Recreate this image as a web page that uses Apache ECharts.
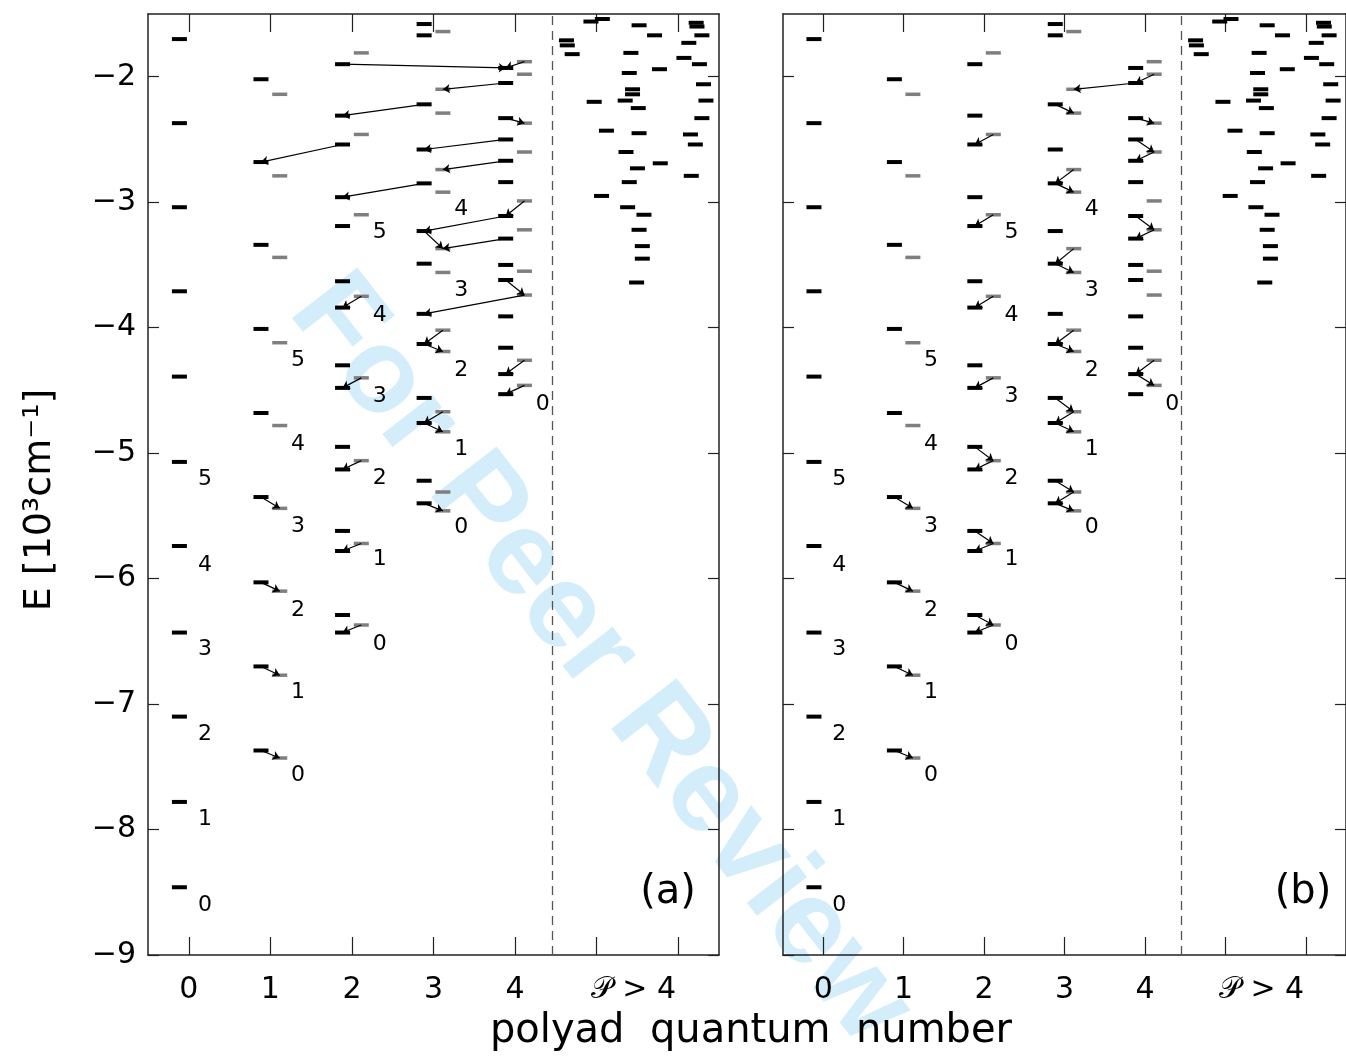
<!DOCTYPE html>
<html>
<head>
<meta charset="utf-8">
<script src="https://cdn.jsdelivr.net/npm/echarts@6/dist/echarts.min.js"></script>
<style>
  html, body { margin: 0; background: #fff; }
  #chart { width: 1346px; height: 1059px; }
</style>
</head>
<body>
<div id="chart"></div>
<script>
// energy levels, E in 10^3 cm^-1 (black = one parity, gray = the other)
const blackP0 = [-8.46, -7.78, -7.10, -6.43, -5.74, -5.07, -4.39, -3.71, -3.04, -2.37, -1.70]
const blackP1 = [-7.37, -6.70, -6.03, -5.35, -4.68, -4.01, -3.34, -2.68, -2.02]
const grayP1 = [-7.43, -6.77, -6.10, -5.44, -4.78, -4.12, -3.44, -2.79, -2.14]
const blackP2 = [-6.43, -6.29, -5.78, -5.62, -5.13, -4.95, -4.48, -4.30, -3.84, -3.63, -3.19, -2.96, -2.54, -2.31, -1.90]
const grayP2 = [-6.37, -5.72, -5.06, -4.40, -3.75, -3.10, -2.46, -1.81]
const blackP3 = [-5.40, -5.22, -4.76, -4.56, -4.13, -3.89, -3.49, -3.23, -2.85, -2.58, -2.22, -1.67, -1.58]
const grayP3 = [-5.46, -5.31, -4.83, -4.67, -4.19, -4.02, -3.56, -3.37, -2.92, -2.74, -2.29, -2.10, -1.64]
const blackP4 = [-4.53, -4.37, -4.16, -3.91, -3.62, -3.50, -3.29, -3.11, -2.84, -2.67, -2.50, -2.33, -2.05, -1.93]
const grayP4 = [-4.46, -4.26, -3.74, -3.55, -3.22, -2.99, -2.60, -2.37, -1.98, -1.88]

// P > 4 levels: [position along polyad axis, E]
const highLevels = [
  [4.93, -1.56], [5.07, -1.54], [5.52, -1.59], [5.71, -1.67], [4.63, -1.71], [4.64, -1.75],
  [4.70, -1.82], [5.42, -1.81], [5.40, -1.97], [5.77, -1.94], [5.44, -2.10], [5.44, -2.14],
  [4.97, -2.20], [5.35, -2.19], [5.51, -2.25], [5.12, -2.43], [5.52, -2.45], [5.36, -2.60],
  [5.78, -2.69], [5.50, -2.73], [5.40, -2.84], [5.06, -2.95], [5.38, -3.04], [5.58, -3.10],
  [5.52, -3.22], [5.56, -3.35], [5.56, -3.45], [5.49, -3.64],
  [6.22, -1.57], [6.23, -1.60], [6.29, -1.67], [6.13, -1.73], [6.07, -1.85], [6.26, -1.90],
  [6.31, -2.06], [6.34, -2.19], [6.29, -2.33], [6.15, -2.46], [6.21, -2.54], [6.16, -2.79]
]

// quantum number labels (text = index), E of label
const labelP0 = [-8.60, -7.92, -7.24, -6.56, -5.89, -5.21]
const labelP1 = [-7.57, -6.91, -6.25, -5.58, -4.93, -4.26]
const labelP2 = [-6.52, -5.85, -5.20, -4.55, -3.90, -3.24]
const labelP3 = [-5.59, -4.97, -4.34, -3.70, -3.06]
const labelP4 = [-4.61]

// arrows: [fromP, fromKind, fromE, toP, toKind, toE], kind 0 = black, 1 = gray
const arrowsA = [
  [1, 0, -7.37, 1, 1, -7.43], [1, 0, -6.70, 1, 1, -6.77], [1, 0, -6.03, 1, 1, -6.10], [1, 0, -5.35, 1, 1, -5.44],
  [2, 1, -3.75, 2, 0, -3.84], [2, 1, -4.40, 2, 0, -4.48], [2, 1, -5.06, 2, 0, -5.13], [2, 1, -5.72, 2, 0, -5.78],
  [2, 1, -6.37, 2, 0, -6.43], [2, 0, -2.54, 1, 0, -2.68], [3, 0, -2.22, 2, 0, -2.31], [3, 0, -2.85, 2, 0, -2.96],
  [2, 0, -1.90, 4, 0, -1.93], [4, 1, -1.88, 4, 0, -1.93], [4, 0, -2.05, 3, 1, -2.10], [4, 0, -2.33, 4, 1, -2.37],
  [4, 0, -2.50, 3, 0, -2.58], [4, 0, -2.67, 3, 1, -2.74], [4, 1, -2.99, 4, 0, -3.11], [4, 0, -3.11, 3, 0, -3.23],
  [3, 0, -3.23, 3, 1, -3.37], [4, 0, -3.29, 3, 1, -3.37], [4, 0, -3.62, 4, 1, -3.74], [4, 1, -3.74, 3, 0, -3.89],
  [3, 1, -4.02, 3, 0, -4.13], [3, 0, -4.13, 3, 1, -4.19], [3, 1, -4.67, 3, 0, -4.76], [3, 0, -4.76, 3, 1, -4.83],
  [3, 0, -5.40, 3, 1, -5.46], [4, 1, -4.26, 4, 0, -4.37], [4, 1, -4.46, 4, 0, -4.53]
]
const arrowsB = [
  [1, 0, -7.37, 1, 1, -7.43], [1, 0, -6.70, 1, 1, -6.77], [1, 0, -6.03, 1, 1, -6.10], [1, 0, -5.35, 1, 1, -5.44],
  [2, 1, -2.46, 2, 0, -2.54], [2, 1, -3.10, 2, 0, -3.19], [2, 1, -3.75, 2, 0, -3.84], [2, 1, -4.40, 2, 0, -4.48],
  [2, 0, -4.95, 2, 1, -5.06], [2, 1, -5.06, 2, 0, -5.13], [2, 0, -5.62, 2, 1, -5.72], [2, 1, -5.72, 2, 0, -5.78],
  [2, 0, -6.29, 2, 1, -6.37], [2, 1, -6.37, 2, 0, -6.43],
  [3, 0, -2.22, 3, 1, -2.29], [3, 1, -2.74, 3, 0, -2.85], [3, 0, -2.85, 3, 1, -2.92], [3, 1, -3.37, 3, 0, -3.49],
  [3, 0, -3.49, 3, 1, -3.56], [3, 1, -4.02, 3, 0, -4.13], [3, 0, -4.13, 3, 1, -4.19], [3, 0, -4.56, 3, 1, -4.67],
  [3, 1, -4.67, 3, 0, -4.76], [3, 0, -4.76, 3, 1, -4.83], [3, 0, -5.22, 3, 1, -5.31], [3, 1, -5.31, 3, 0, -5.40],
  [3, 0, -5.40, 3, 1, -5.46],
  [4, 1, -1.98, 4, 0, -2.05], [4, 0, -2.05, 3, 1, -2.10], [4, 0, -2.33, 4, 1, -2.37], [4, 0, -2.50, 4, 1, -2.60],
  [4, 1, -2.60, 4, 0, -2.67], [4, 0, -3.11, 4, 1, -3.22], [4, 1, -3.22, 4, 0, -3.29], [4, 1, -4.26, 4, 0, -4.37],
  [4, 0, -4.37, 4, 1, -4.46]
]

const xTickValues = [0, 1, 2, 3, 4, 5, 6]
const xLabelValues = [0, 1, 2, 3, 4, 5.45]
const xTickLabels = ['0', '1', '2', '3', '4', '𝒫 > 4']
const yTickValues = [-9, -8, -7, -6, -5, -4, -3, -2]
const dividerAt = 4.45

const FONT = 'DejaVu Sans'
const AXIS_COLOR = '#222'

const blackCols = [blackP0, blackP1, blackP2, blackP3, blackP4]
const grayCols = [[], grayP1, grayP2, grayP3, grayP4]
const labelCols = [labelP0, labelP1, labelP2, labelP3, labelP4]
const offset = (kind) => (kind === 0 ? -0.115 : 0.115)

const blackPts = []
blackCols.forEach((col, p) => col.forEach((e) => blackPts.push([p + offset(0), e])))
highLevels.forEach((d) => blackPts.push([d[0], d[1]]))
const grayPts = []
grayCols.forEach((col, p) => col.forEach((e) => grayPts.push([p + offset(1), e])))
const labelPts = []
labelCols.forEach((col, p) =>
  col.forEach((e, i) => labelPts.push([p + (p === 0 ? 0.2 : 0.34), e, String(i)]))
)
const arrowData = (list) =>
  list.map((a) => ({
    coords: [
      [a[0] + offset(a[1]), a[2]],
      [a[3] + offset(a[4]), a[5]]
    ]
  }))

const frameLine = { show: true, onZero: false, lineStyle: { color: AXIS_COLOR, width: 1.5 } }
const xAxes = (g) => [
  {
    gridIndex: g, type: 'value', min: -0.5, max: 6.5, position: 'bottom',
    axisLine: frameLine,
    axisTick: { show: true, inside: true, length: 18, customValues: xTickValues, lineStyle: { color: AXIS_COLOR, width: 1.2 } },
    axisLabel: {
      customValues: xLabelValues, margin: 20, fontSize: 30, color: '#000', fontFamily: FONT,
      formatter: (v) => xTickLabels[xLabelValues.findIndex((x) => Math.abs(x - v) < 1e-6)]
    },
    splitLine: { show: false }
  },
  {
    gridIndex: g, type: 'value', min: -0.5, max: 6.5, position: 'top',
    axisLine: frameLine,
    axisTick: { show: true, inside: true, length: 18, customValues: xTickValues, lineStyle: { color: AXIS_COLOR, width: 1.2 } },
    axisLabel: { show: false },
    splitLine: { show: false }
  }
]
const yAxes = (g, showLabels) => [
  {
    gridIndex: g, type: 'value', min: -9, max: -1.5, position: 'left',
    axisLine: frameLine,
    axisTick: { show: true, inside: true, length: 11, customValues: yTickValues, lineStyle: { color: AXIS_COLOR, width: 1.2 } },
    axisLabel: {
      show: showLabels, customValues: yTickValues, margin: 12, fontSize: 30, color: '#000', fontFamily: FONT,
      formatter: (v) => '\u2212' + Math.abs(v)
    },
    splitLine: { show: false }
  },
  {
    gridIndex: g, type: 'value', min: -9, max: -1.5, position: 'right',
    axisLine: frameLine,
    axisTick: { show: true, inside: true, length: 11, customValues: yTickValues, lineStyle: { color: AXIS_COLOR, width: 1.2 } },
    axisLabel: { show: false },
    splitLine: { show: false }
  }
]

const panelSeries = (g, arrows) => {
  const axes = { xAxisIndex: g * 2, yAxisIndex: g * 2 }
  return [
    {
      type: 'scatter', ...axes, symbol: 'rect', symbolSize: [15, 3.5], z: 3,
      itemStyle: { color: '#7f7f7f', opacity: 1 }, data: grayPts, silent: true
    },
    {
      type: 'scatter', ...axes, symbol: 'rect', symbolSize: [15, 4], z: 4,
      itemStyle: { color: '#000', opacity: 1 }, data: blackPts, silent: true,
      markLine: {
        silent: true, symbol: 'none', label: { show: false },
        lineStyle: { color: '#555', type: [9, 6], width: 1.3 },
        data: [{ xAxis: dividerAt }]
      }
    },
    {
      type: 'lines', ...axes, coordinateSystem: 'cartesian2d', z: 5,
      symbol: ['none', 'arrow'], symbolSize: 7,
      lineStyle: { color: '#000', width: 1.2, opacity: 1 },
      data: arrowData(arrows), silent: true
    },
    {
      type: 'scatter', ...axes, symbolSize: 1, z: 6,
      itemStyle: { color: 'rgba(0,0,0,0)', opacity: 1 }, data: labelPts, silent: true,
      label: {
        show: true, position: 'inside', formatter: (p) => p.data[2],
        fontSize: 22, color: '#000', fontFamily: FONT
      }
    }
  ]
}

const chart = echarts.init(document.getElementById('chart'))
chart.setOption({
  animation: false,
  backgroundColor: '#fff',
  grid: [
    { left: 148, top: 14, width: 571, height: 941 },
    { left: 783, top: 14, width: 572, height: 941 }
  ],
  xAxis: [...xAxes(0), ...xAxes(1)],
  yAxis: [...yAxes(0, true), ...yAxes(1, false)],
  series: [...panelSeries(0, arrowsA), ...panelSeries(1, arrowsB)],
  graphic: [
    {
      type: 'text', x: 600, y: 660, rotation: -0.91, z: -1, silent: true,
      style: {
        text: 'For Peer Review', fill: '#d3edfb', fontSize: 120, fontWeight: 'bold',
        fontFamily: 'Liberation Sans', align: 'center', verticalAlign: 'middle'
      }
    },
    {
      type: 'text', x: 40, y: 500, rotation: Math.PI / 2,
      style: { text: 'E [10³cm⁻¹]', fill: '#000', fontSize: 38, fontFamily: FONT, align: 'center', verticalAlign: 'middle' }
    },
    {
      type: 'text', x: 751, y: 1032,
      style: { text: 'polyad  quantum  number', fill: '#000', fontSize: 40, fontFamily: FONT, align: 'center', verticalAlign: 'middle' }
    },
    {
      type: 'text', x: 668, y: 893,
      style: { text: '(a)', fill: '#000', fontSize: 40, fontFamily: FONT, align: 'center', verticalAlign: 'middle' }
    },
    {
      type: 'text', x: 1303, y: 893,
      style: { text: '(b)', fill: '#000', fontSize: 40, fontFamily: FONT, align: 'center', verticalAlign: 'middle' }
    }
  ]
})
</script>
</body>
</html>
